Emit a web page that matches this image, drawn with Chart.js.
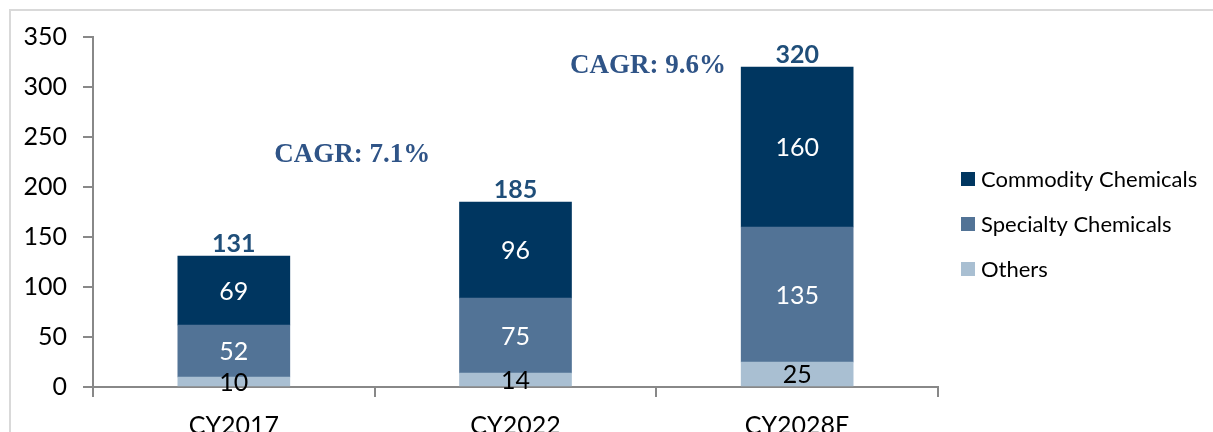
<!DOCTYPE html>
<html>
<head>
<meta charset="utf-8">
<script src="https://cdn.jsdelivr.net/npm/chart.js@4"></script>
<style>
  html, body { margin: 0; padding: 0; background: #fff; }
  #wrap { width: 1213px; height: 432px; position: relative; }
</style>
</head>
<body>
<div id="wrap"><canvas id="chem-chart" width="1213" height="432"></canvas></div>
<script>
// data
const years = ["CY2017", "CY2022", "CY2028E"];
const others = [10, 14, 25];
const specialty = [52, 75, 135];
const commodity = [69, 96, 160];
const totals = [131, 185, 320];
const cagrText = ["CAGR: 7.1%", "CAGR: 9.6%"];

const sansFont = "Lato, 'Open Sans', sans-serif";

// labels, totals, CAGR notes, legend and frame
const extrasPlugin = {
    id: 'extras',
    afterDatasetsDraw(chart) {
        const ctx = chart.ctx;
        const x = chart.scales.x;
        const y = chart.scales.y;
        ctx.save();

        // segment values
        chart.data.datasets.forEach((ds, i) => {
            const meta = chart.getDatasetMeta(i);
            meta.data.forEach((bar, j) => {
                const mid = (bar.y + bar.base) / 2;
                ctx.fillStyle = ds.labelColor;
                ctx.font = "25px " + sansFont;
                ctx.textAlign = 'center';
                ctx.textBaseline = 'middle';
                ctx.fillText(ds.data[j], bar.x, mid + 1);
            });
        });

        // totals
        totals.forEach((t, j) => {
            ctx.fillStyle = '#1F4E79';
            ctx.font = "bold 25px " + sansFont;
            ctx.textAlign = 'center';
            ctx.textBaseline = 'middle';
            ctx.fillText(t, x.getPixelForValue(j), y.getPixelForValue(t) - 12);
        });

        // CAGR notes
        ctx.fillStyle = '#2F5487';
        ctx.font = "bold 27px 'Liberation Serif', 'Times New Roman', serif";
        ctx.textAlign = 'center';
        ctx.textBaseline = 'middle';
        ctx.fillText(cagrText[0], x.getPixelForValue(0.42), y.getPixelForValue(232));
        ctx.fillText(cagrText[1], x.getPixelForValue(1.47), y.getPixelForValue(321));

        // legend
        const order = [2, 1, 0];
        order.forEach((di, k) => {
            const ds = chart.data.datasets[di];
            const ly = 179 + k * 45;
            ctx.fillStyle = ds.backgroundColor;
            ctx.fillRect(961, ly - 7, 14, 14);
            ctx.fillStyle = '#000';
            ctx.font = "22px " + sansFont;
            ctx.textAlign = 'left';
            ctx.textBaseline = 'middle';
            ctx.fillText(ds.label, 981, ly + 1);
        });

        // frame
        ctx.strokeStyle = '#D9D9D9';
        ctx.lineWidth = 2;
        ctx.beginPath();
        ctx.moveTo(10, 432);
        ctx.lineTo(10, 10);
        ctx.lineTo(1213, 10);
        ctx.stroke();

        ctx.restore();
    }
};

const chemCanvas = document.getElementById("chem-chart");

const chemData = {
    labels: years,
    datasets: [{
        label: 'Others',
        data: others,
        backgroundColor: '#A9BFD2',
        labelColor: '#000'
    }, {
        label: 'Specialty Chemicals',
        data: specialty,
        backgroundColor: '#527396',
        labelColor: '#fff'
    }, {
        label: 'Commodity Chemicals',
        data: commodity,
        backgroundColor: '#003660',
        labelColor: '#fff'
    }]
};

const chemOptions = {
    responsive: false,
    animation: false,
    datasets: {
        bar: {
            barThickness: 112
        }
    },
    layout: {
        padding: { top: 37, right: 275, left: 0, bottom: 0 }
    },
    scales: {
        x: {
            stacked: true,
            grid: {
                drawOnChartArea: false,
                drawTicks: true,
                tickLength: 10,
                color: '#888',
                lineWidth: 2
            },
            border: { color: '#888', width: 2 },
            ticks: {
                color: '#000',
                padding: 14,
                font: { family: sansFont, size: 25 }
            },
            afterFit(scale) { scale.height = 45; }
        },
        y: {
            stacked: true,
            min: 0,
            max: 350,
            grid: {
                drawOnChartArea: false,
                drawTicks: true,
                tickLength: 10,
                color: '#888',
                lineWidth: 2
            },
            border: { color: '#888', width: 2 },
            ticks: {
                stepSize: 50,
                color: '#000',
                padding: 16,
                font: { family: sansFont, size: 25 }
            },
            afterFit(scale) { scale.width = 93; }
        }
    },
    plugins: {
        legend: { display: false },
        tooltip: { enabled: false }
    }
};

let chemChart = new Chart(chemCanvas, {
    type: 'bar',
    data: chemData,
    options: chemOptions,
    plugins: [extrasPlugin]
});
</script>
</body>
</html>
